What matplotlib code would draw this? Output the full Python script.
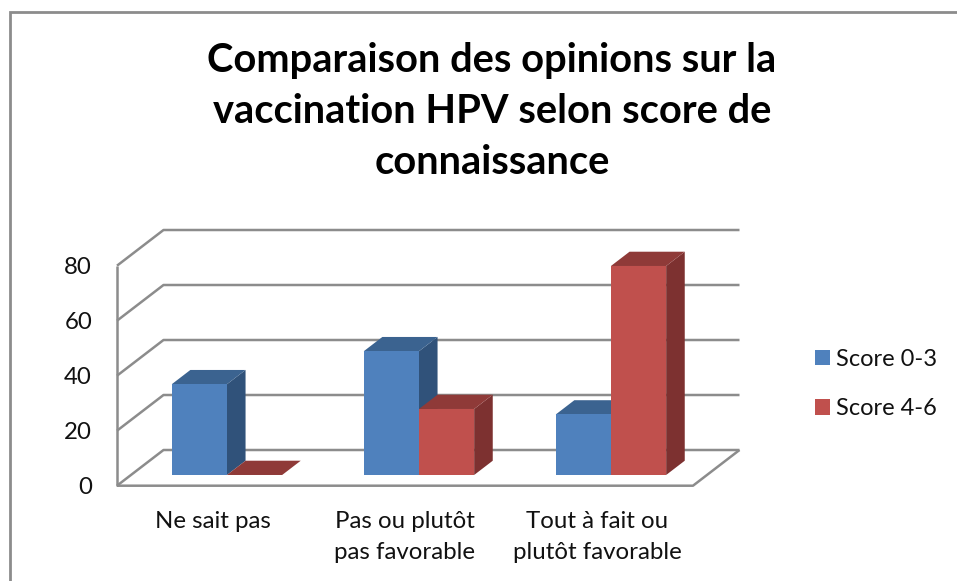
import matplotlib
matplotlib.use("Agg")
import matplotlib.pyplot as plt
from matplotlib.patches import Polygon, Patch
from matplotlib.lines import Line2D

categories = ["Ne sait pas", "Pas ou plutôt\npas favorable", "Tout à fait ou\nplutôt favorable"]
score_low = [33, 45, 22]
score_high = [0, 24, 76]
series_names = ["Score 0-3", "Score 4-6"]
y_ticks = [0, 20, 40, 60, 80]
title = "Comparaison des opinions sur la\nvaccination HPV selon score de\nconnaissance"

W, H = 957, 581
plt.rcParams["font.family"] = ["Lato", "DejaVu Sans"]
fig = plt.figure(figsize=(W / 100, H / 100), dpi=100)

# front plane of the oblique box, in pixels
L, R, B, T = 117, 693, 485.7, 265.7
ax = fig.add_axes([L / W, 1 - B / H, (R - L) / W, (B - T) / H])
ax.set_xlim(0, 3)
ax.set_ylim(0, 80)
ax.patch.set_visible(False)
for s in ax.spines.values():
    s.set_visible(False)

DX = 46.5 / (R - L) * 3     # wall depth in category units
DV = 35.7 / (B - T) * 80    # wall depth in value units
GRID = "#8c8c8c"


def P(x, v, d=0.0):
    return (x + d * DX, v + d * DV)


def line(pts, **kw):
    ax.add_line(Line2D([p[0] for p in pts], [p[1] for p in pts], color=GRID, lw=1.8,
                       clip_on=False, solid_capstyle="butt", zorder=1, **kw))


for t in y_ticks:
    line([P(0, t), P(0, t, 1), P(3, t, 1)])
line([P(0, 0), P(0, y_ticks[-1])])
line([P(0, 0), P(3, 0), P(3, 0, 1)])

BW = 0.2875
D0, D1 = 0.3, 0.7
colors = [("#4F81BD", "#3B6390", "#30527A"), ("#C0504D", "#8F3A38", "#7D3130")]


def bar(x0, v, cols, z):
    x1 = x0 + BW
    front, top, side = cols
    ax.add_patch(Polygon([P(x1, 0, D0), P(x1, 0, D1), P(x1, v, D1), P(x1, v, D0)],
                         fc=side, ec="none", clip_on=False, zorder=z))
    ax.add_patch(Polygon([P(x0, v, D0), P(x1, v, D0), P(x1, v, D1), P(x0, v, D1)],
                         fc=top, ec="none", clip_on=False, zorder=z))
    ax.add_patch(Polygon([P(x0, 0, D0), P(x1, 0, D0), P(x1, v, D0), P(x0, v, D0)],
                         fc=front, ec="none", clip_on=False, zorder=z))


for i in range(len(categories)):
    c = i + 0.5
    bar(c - BW, score_low[i], colors[0], 2 + i * 2)
    bar(c, score_high[i], colors[1], 3 + i * 2)

ax.set_yticks(y_ticks)
ax.set_xticks([i + 0.5 for i in range(len(categories))])
ax.set_xticklabels(categories, fontsize=17.3, color="#111111", linespacing=1.58)
ax.tick_params(axis="y", length=0, pad=18, labelsize=17.3, labelcolor="#111111")
ax.tick_params(axis="x", length=0, pad=18)

handles = [Patch(fc=colors[0][0], ec="none"), Patch(fc=colors[1][0], ec="none")]
fig.legend(handles, series_names, loc="center left", bbox_to_anchor=(815 / W, 1 - 384 / H),
           frameon=False, fontsize=17, handlelength=0.64, handleheight=0.64,
           handletextpad=0.27, labelspacing=1.2, borderpad=0, borderaxespad=0,
           labelcolor="#111111")

fig.text(492 / W, 1 - 111.5 / H, title, ha="center", va="center", fontsize=28.7, fontweight="bold",
         color="black", linespacing=1.47)

fig.add_artist(Line2D([10 / W, 10 / W, 1], [0, 1 - 12 / H, 1 - 12 / H], color=GRID, lw=2,
                      transform=fig.transFigure, solid_joinstyle="miter"))

fig.savefig("out.png", dpi=100, facecolor="white")
